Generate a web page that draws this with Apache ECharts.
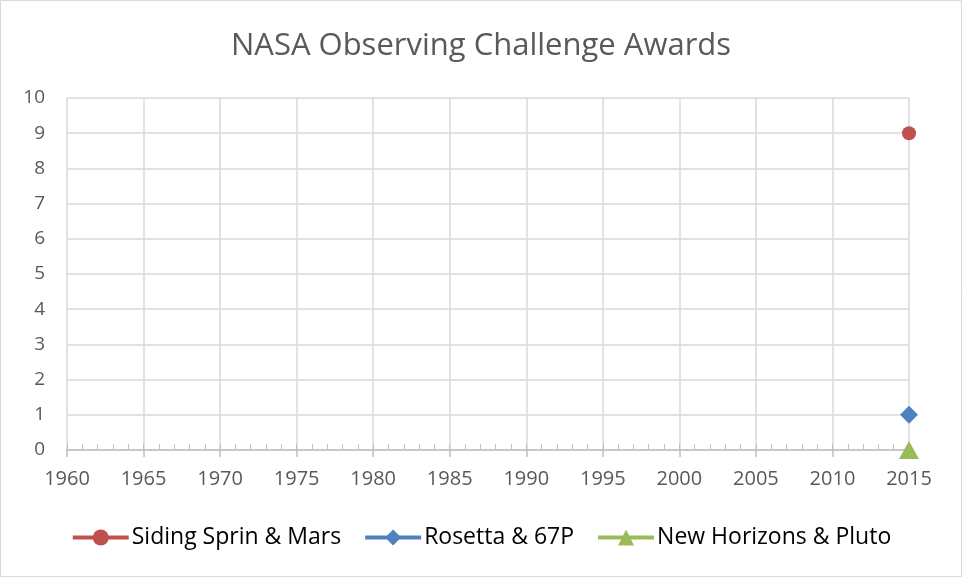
<!DOCTYPE html>
<html><head><meta charset="utf-8">
<script src="https://cdn.jsdelivr.net/npm/echarts@6/dist/echarts.min.js"></script>
<style>html,body{margin:0;padding:0;background:#fff}#c{width:962px;height:577px}</style>
</head><body><div id="c"></div>
<script>
const seriesNames = ["Siding Sprin & Mars", "Rosetta & 67P", "New Horizons & Pluto"];
const sidingSpring = [[2015, 9]];
const rosetta = [[2015, 1]];
const newHorizons = [[2015, 0]];
const xMin = 1960, xMax = 2015, xStep = 5;
const yMin = 0, yMax = 10, yStep = 1;

const font = "Open Sans";
const chart = echarts.init(document.getElementById('c'));
const axisCol = '#BFBFBF', gridCol = '#D9D9D9', txt = '#595959';
chart.setOption({
  animation: false,
  title: { text: 'NASA Observing Challenge Awards', left: 'center', top: 26,
    textStyle: { fontFamily: font, fontSize: 31, fontWeight: 'normal', color: txt } },
  graphic: [{ type: 'rect', shape: { x: 0.5, y: 0.5, width: 961, height: 576 },
    style: { fill: 'none', stroke: '#D9D9D9', lineWidth: 1 }, silent: true }],
  legend: { top: 521, left: 'center', itemWidth: 56, itemHeight: 20, itemGap: 22,
    lineStyle: { width: 4 },
    textStyle: { fontFamily: font, fontSize: 23, color: '#000', padding: [0, 0, 0, -2] },
    data: seriesNames },
  grid: { left: 67, right: 53, top: 98, bottom: 127 },
  xAxis: [{
    type: 'value', min: xMin, max: xMax, interval: xStep,
    axisLine: { show: true, lineStyle: { color: axisCol, width: 1.5 } },
    axisTick: { show: true, inside: true, length: 6, lineStyle: { color: axisCol } },
    minorTick: { show: true, splitNumber: 5, length: 6, lineStyle: { color: axisCol } },
    splitLine: { show: true, lineStyle: { color: gridCol, width: 1.5 } },
    axisLabel: { fontFamily: font, fontSize: 20, color: txt, margin: 19, formatter: v => String(v) }
  }, {
    type: 'value', min: xMin, max: xMax, interval: xStep, position: 'bottom',
    axisLine: { show: false }, splitLine: { show: false },
    axisTick: { show: true, length: 7, lineStyle: { color: axisCol, width: 1.5 } },
    axisLabel: { show: false }
  }],
  yAxis: {
    type: 'value', min: yMin, max: yMax, interval: yStep,
    axisLine: { show: false }, axisTick: { show: false },
    splitLine: { show: true, lineStyle: { color: gridCol, width: 1.5 } },
    axisLabel: { fontFamily: font, fontSize: 19, color: txt, margin: 22 }
  },
  series: [
    { name: seriesNames[0], type: 'line', data: sidingSpring, symbol: 'circle', symbolSize: 14, clip: false,
      itemStyle: { color: '#C0504D' }, lineStyle: { color: '#C0504D', width: 4 } },
    { name: seriesNames[1], type: 'line', data: rosetta, symbol: 'diamond', symbolSize: 18, clip: false,
      itemStyle: { color: '#4F81BD' }, lineStyle: { color: '#4F81BD', width: 4 } },
    { name: seriesNames[2], type: 'line', data: newHorizons, symbol: 'triangle', symbolSize: [20, 18], clip: false,
      itemStyle: { color: '#9BBB59' }, lineStyle: { color: '#9BBB59', width: 4 } }
  ]
});
</script></body></html>
